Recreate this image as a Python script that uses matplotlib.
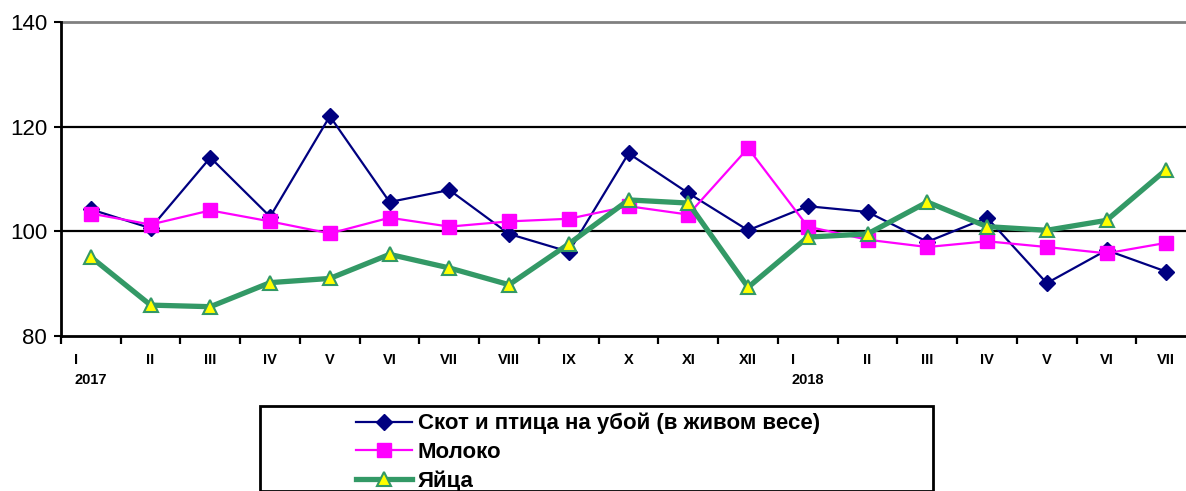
import matplotlib.pyplot as plt
from matplotlib.patches import Rectangle
from matplotlib.lines import Line2D
import numpy as np

plt.rcParams['font.family'] = ['Liberation Sans', 'DejaVu Sans']

months = ['I', 'II', 'III', 'IV', 'V', 'VI', 'VII', 'VIII', 'IX', 'X', 'XI', 'XII',
          'I', 'II', 'III', 'IV', 'V', 'VI', 'VII']
years = {0: '2017', 12: '2018'}

skot = [104.2, 100.6, 114.1, 102.8, 122.0, 105.6, 107.9, 99.5, 96.1, 114.9, 107.3, 100.2,
        104.8, 103.7, 98.0, 102.6, 90.1, 96.4, 92.3]
moloko = [103.4, 101.3, 104.0, 101.9, 99.6, 102.6, 100.9, 101.9, 102.4, 104.8, 103.2, 115.9,
          100.9, 98.4, 97.0, 98.1, 97.0, 95.8, 97.8]
yaitsa = [95.1, 85.9, 85.6, 90.2, 91.0, 95.6, 93.0, 89.8, 97.6, 106.0, 105.4, 89.3,
          98.9, 99.5, 105.6, 100.9, 100.2, 102.1, 111.8]

labels = ['Скот и птица на убой (в живом весе)', 'Молоко', 'Яйца']

fig = plt.figure(figsize=(11.86, 4.91), dpi=100)
ax = fig.add_axes([61 / 1186, 1 - 336 / 491, 1 - 61 / 1186, (336 - 22) / 491])

x = np.arange(len(months))
ax.plot(x, skot, color='#000080', lw=1.6, marker='D', ms=8.5, zorder=3)
ax.plot(x, moloko, color='#FF00FF', lw=1.6, marker='s', ms=10.5, zorder=4)
ax.plot(x, yaitsa, color='#339966', lw=3.8, marker='^', ms=10, mfc='#FFFF00',
        mec='#339966', mew=1.5, zorder=5)

ax.set_xlim(-0.5, 18.33)
ax.set_ylim(80, 140)
ax.set_yticks([80, 100, 120, 140])
ax.tick_params(axis='y', labelsize=16, length=5, width=1.5, pad=5)
for v in [100, 120]:
    ax.axhline(v, color='black', lw=1.6, zorder=1)
ax.axhline(140, color='#808080', lw=2, zorder=1, clip_on=False)

for s in ['top', 'right']:
    ax.spines[s].set_visible(False)
for s in ['left', 'bottom']:
    ax.spines[s].set_linewidth(2)

ax.set_xticks(np.arange(-0.5, 18.5, 1), minor=True)
ax.tick_params(axis='x', which='minor', length=6, width=1.6, direction='out')
ax.set_xticks(x)
ax.set_xticklabels([])
ax.tick_params(axis='x', which='major', length=0)

px = 72 / 100
for i, m in enumerate(months):
    dx = -15 * px if i in years else 0
    ax.annotate(m, xy=(i, 0), xycoords=('data', 'axes fraction'), xytext=(dx, -24 * px),
                textcoords='offset points', ha='center', va='center',
                fontsize=10.5, fontweight='bold')
for i, yr in years.items():
    ax.annotate(yr, xy=(i, 0), xycoords=('data', 'axes fraction'), xytext=(0, -44 * px),
                textcoords='offset points', ha='center', va='center',
                fontsize=10.5, fontweight='bold')

# legend box
fig.patches.append(Rectangle((260 / 1186, 0), (933 - 260) / 1186, 1 - 406 / 491 - 0,
                             transform=fig.transFigure, fill=False, ec='black', lw=2,
                             clip_on=False))
handles = [
    Line2D([], [], color='#000080', lw=1.6, marker='D', ms=8.5),
    Line2D([], [], color='#FF00FF', lw=1.6, marker='s', ms=10.5),
    Line2D([], [], color='#339966', lw=3.8, marker='^', ms=10, mfc='#FFFF00', mec='#339966', mew=1.5),
]
leg = fig.legend(handles, labels, loc='upper left', bbox_to_anchor=(356 / 1186, 1 - 413 / 491),
                 frameon=False, prop={'size': 16, 'weight': 'bold'}, handlelength=2.5,
                 handletextpad=0.27, labelspacing=0.33, borderpad=0, borderaxespad=0)

fig.savefig('out.png', dpi=100)
